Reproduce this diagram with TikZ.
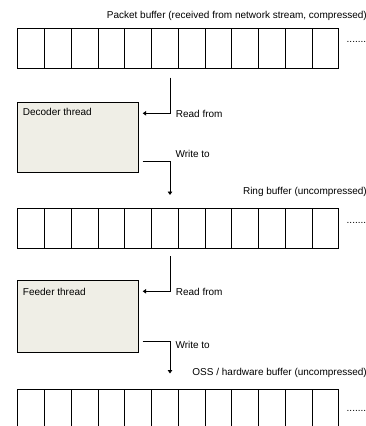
\documentclass[tikz,border=0pt]{standalone}
\usepackage{fontspec}
\setmainfont{Liberation Sans}
\usetikzlibrary{arrows.meta}
\definecolor{boxfill}{HTML}{EFEEE6}
\tikzset{
  cell/.style={draw=black, line width=0.8pt, minimum width=26.75pt, inner sep=0pt, anchor=north west},
  thread/.style={draw=black, line width=0.8pt, fill=boxfill, minimum width=121pt, minimum height=70pt, inner sep=0pt, anchor=north west},
  lbl/.style={font=\fontsize{10}{12}\selectfont, inner sep=0pt},
  conn/.style={line width=0.8pt, -{Triangle[length=3.5pt,width=4.5pt]}},
}
\begin{document}
\begin{tikzpicture}[x=1pt,y=-1pt]
\useasboundingbox (0,0) rectangle (366,426);
\clip (0,0) rectangle (366,426);
% buffer 1
\foreach \i in {0,...,11} {
  \node[cell, minimum height=40pt] (ba\i) at ({17.3+26.75*\i},28) {};
}
\node[lbl, anchor=east] (ta) at (367,16) {Packet buffer (received from network stream, compressed)};
\node[lbl, anchor=base west] (da) at (346.5,42.8) {.......};
% decoder
\node[thread, minimum height=69.7pt] (dec) at (17.3,102) {};
\node[lbl, anchor=west] (dect) at (22.7,111.5) {Decoder thread};
\coordinate (r1s) at (170,77.7);
\coordinate (r1e) at (142.7,113.3);
\draw[conn] (r1s) |- (r1e);
\node[lbl, anchor=west] (r1l) at (175.7,113.5) {Read from};
\coordinate (w1s) at (142.7,161);
\coordinate (w1e) at (170,195);
\draw[conn] (w1s) -| (w1e);
\node[lbl, anchor=west] (w1l) at (175.3,153.5) {Write to};
% buffer 2
\node[lbl, anchor=east] (tb) at (367,192) {Ring buffer (uncompressed)};
\foreach \i in {0,...,11} {
  \node[cell, minimum height=40.6pt] (bb\i) at ({17.3+26.75*\i},207.7) {};
}
\node[lbl, anchor=base west] (db) at (346.5,223.5) {.......};
% feeder
\node[thread, minimum height=72pt] (fed) at (17.3,280.3) {};
\node[lbl, anchor=west] (fedt) at (22.7,291.5) {Feeder thread};
\coordinate (r2s) at (170,256);
\coordinate (r2e) at (142.7,291.3);
\draw[conn] (r2s) |- (r2e);
\node[lbl, anchor=west] (r2l) at (175.7,291.5) {Read from};
\coordinate (w2s) at (142.7,341);
\coordinate (w2e) at (170,373.5);
\draw[conn] (w2s) -| (w2e);
\node[lbl, anchor=west] (w2l) at (175.3,344.5) {Write to};
% buffer 3
\node[lbl, anchor=east] (tc) at (367,372.5) {OSS / hardware buffer (uncompressed)};
\foreach \i in {0,...,11} {
  \node[cell, minimum height=50pt] (bc\i) at ({17.3+26.75*\i},389) {};
}
\node[lbl, anchor=base west] (dc) at (346.5,411) {.......};
\end{tikzpicture}
\end{document}
